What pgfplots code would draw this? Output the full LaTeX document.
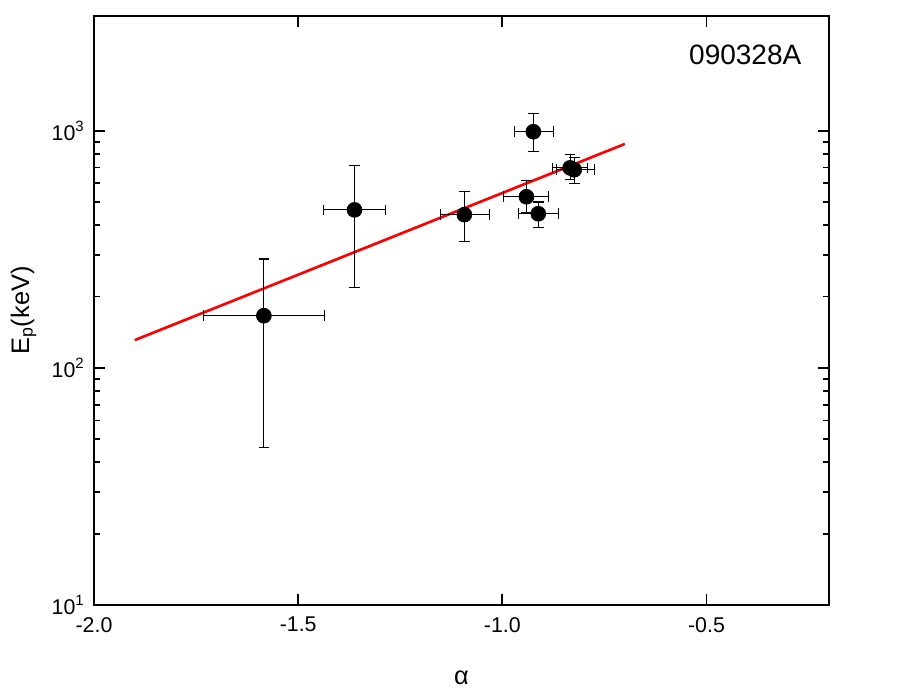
\documentclass[border=0pt]{standalone}
\usepackage{fontspec}
\setmainfont{Liberation Sans}
\usepackage{pgfplots}
\pgfplotsset{compat=1.18}

\begin{document}
\begin{tikzpicture}
\useasboundingbox (-70.5pt,-67.5pt) rectangle (617.25pt,453.75pt);
\begin{axis}[
  at={(0,0)}, anchor=south west,
  scale only axis,
  width=551.25pt, height=441.75pt,
  ymode=log,
  xmin=-2.0, xmax=-0.2,
  ymin=10, ymax=3050,
  xtick={-2.0,-1.5,-1.0,-0.5},
  xticklabels={-2.0,-1.5,-1.0,-0.5},
  ytick={10,100,1000},
  yticklabels={10\textsuperscript{1},10\textsuperscript{2},10\textsuperscript{3}},
  minor x tick num=0,
  tick align=inside,
  major tick length=8pt,
  minor tick length=4.5pt,
  axis line style={line width=1.8pt},
  every axis/.append style={line width=1.8pt},
  every tick/.style={black, line width=1.4pt},
  ticklabel style={font=\fontsize{16}{19}\selectfont},
  xticklabel style={yshift=-5pt},
  yticklabel style={xshift=-3pt},
  xlabel={α},
  ylabel={E\textsubscript{p}(keV)},
  label style={font=\fontsize{19}{22}\selectfont},
  xlabel style={yshift=-21pt},
  ylabel style={yshift=4pt},
  clip=false,
]
  % fitted line
  \addplot[red, line width=2pt] coordinates {(-1.9,131) (-0.7,880)};

  % data with asymmetric error bars: alpha, Ep, offsets
  \addplot[only marks, mark=*, mark size=5.6pt, black,
    mark options={line width=0.5pt},
    error bars/.cd,
      x dir=both, x explicit,
      y dir=both, y explicit,
      error bar style={line width=0.8pt, black},
      error mark options={rotate=90, mark size=4pt, line width=0.8pt, black},
  ] table[x=a, y=E, x error plus=xp, x error minus=xm, y error plus=yp, y error minus=ym] {
    a       E     xm     xp     ym    yp
    -1.584  166   0.147  0.148  120   122
    -1.362  464   0.076  0.076  246   247
    -1.093  443   0.059  0.061  103   110
    -0.924  991   0.047  0.049  176   189
    -0.941  527   0.057  0.053  76    88
    -0.912  447   0.049  0.049  57    54
    -0.834  698   0.044  0.042  77    94
    -0.824  685   0.044  0.049  88    84
  };

  \node[anchor=east, font=\fontsize{21}{24}\selectfont] at (rel axis cs:0.97,0.934) {090328A};
\end{axis}
\end{tikzpicture}
\end{document}
